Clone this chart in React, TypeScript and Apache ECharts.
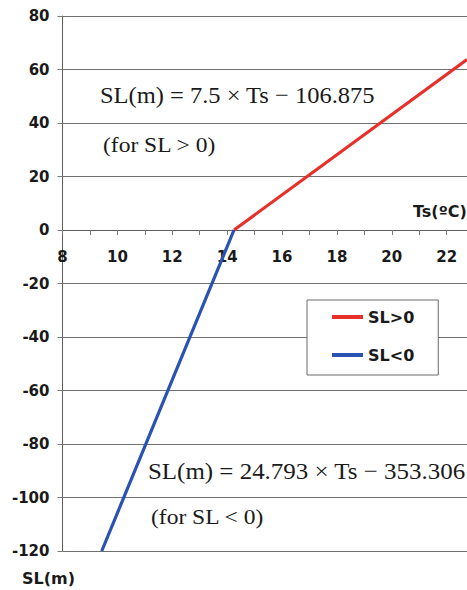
import React, { useEffect, useRef } from "react";
import * as echarts from "echarts";

const yTicks = [-120, -100, -80, -60, -40, -20, 0, 20, 40, 60, 80];
const xLabels = [8, 10, 12, 14, 16, 18, 20, 22];
const xMin = 8;
const xMax = 22.74;
const positivePoints: [number, number][] = [
  [14.25, 0],
  [22.74, 63.7],
];
const negativePoints: [number, number][] = [
  [9.43, -120],
  [14.25, 0],
];
const seriesNames = ["SL>0", "SL<0"];
const equationPos = "SL(m) = 7.5 × Ts − 106.875";
const conditionPos = "(for SL > 0)";
const equationNeg = "SL(m) = 24.793 × Ts − 353.306";
const conditionNeg = "(for SL < 0)";

export default function App() {
  const ref = useRef<HTMLDivElement>(null);
  useEffect(() => {
    if (!ref.current) return;
    const chart = echarts.init(ref.current, null, { renderer: "svg" });
    const sans = "DejaVu Sans";
    const serif = "Liberation Serif";
    const yMin = yTicks[0];
    const yMax = yTicks[yTicks.length - 1];
    const top = 16;
    const bottom = 39;
    const plotH = 590 - top - bottom;
    const zeroPx = top + (yMax / (yMax - yMin)) * plotH;
    const axisColor = "#5e5e5e";
    const tickColor = "#7a7a7a";
    chart.setOption({
      animation: false,
      backgroundColor: "#ffffff",
      grid: [
        { left: 62.5, right: 0, top, bottom },
        { left: 62.5, right: 0, top, bottom: 590 - zeroPx },
      ],
      xAxis: [
        {
          type: "value",
          gridIndex: 0,
          min: xMin,
          max: xMax,
          show: false,
        },
        {
          type: "value",
          gridIndex: 1,
          min: xMin,
          max: xMax,
          interval: 1,
          position: "bottom",
          axisLine: { show: true, onZero: false, lineStyle: { color: axisColor, width: 1 } },
          axisTick: { show: true, length: 5, lineStyle: { color: tickColor } },
          axisLabel: {
            margin: 19,
            fontFamily: sans,
            fontWeight: "bold",
            fontSize: 15,
            color: "#1a1a1a",
            showMaxLabel: false,
            formatter: (v: number) => (xLabels.includes(v) ? String(v) : ""),
          },
          splitLine: { show: false },
        },
      ],
      yAxis: [
        {
          type: "value",
          gridIndex: 0,
          min: yMin,
          max: yMax,
          interval: 20,
          axisLine: { show: true, onZero: false, lineStyle: { color: axisColor, width: 1 } },
          axisTick: { show: true, length: 5, lineStyle: { color: tickColor } },
          axisLabel: {
            margin: 13,
            fontFamily: sans,
            fontWeight: "bold",
            fontSize: 15,
            color: "#1a1a1a",
          },
          splitLine: { show: true, lineStyle: { color: "#707070", width: 1 } },
        },
        {
          type: "value",
          gridIndex: 1,
          min: 0,
          max: yMax,
          show: false,
        },
      ],
      legend: {
        orient: "vertical",
        left: 307,
        top: 300,
        padding: [8, 24, 11, 25],
        itemGap: 20,
        itemWidth: 31,
        itemHeight: 4,
        itemTextGap: 5,
        icon: "rect",
        backgroundColor: "#ffffff",
        borderColor: "#6a6a6a",
        borderWidth: 1,
        textStyle: { fontFamily: sans, fontWeight: "bold", fontSize: 16, color: "#1a1a1a", lineHeight: 18 },
        data: seriesNames,
      },
      series: [
        {
          name: seriesNames[0],
          type: "line",
          xAxisIndex: 0,
          yAxisIndex: 0,
          data: positivePoints,
          showSymbol: false,
          lineStyle: { color: "#e8302a", width: 3.2 },
          itemStyle: { color: "#e8302a" },
        },
        {
          name: seriesNames[1],
          type: "line",
          xAxisIndex: 0,
          yAxisIndex: 0,
          data: negativePoints,
          showSymbol: false,
          lineStyle: { color: "#2a52b0", width: 3.2 },
          itemStyle: { color: "#2a52b0" },
        },
      ],
      graphic: [
        {
          type: "text",
          x: 100,
          y: 95,
          scaleX: 1.02,
          style: { text: equationPos, fontFamily: serif, fontSize: 24, fill: "#1a1a1a", verticalAlign: "middle" },
        },
        {
          type: "text",
          x: 103,
          y: 145,
          scaleX: 1.12,
          style: { text: conditionPos, fontFamily: serif, fontSize: 21, fill: "#1a1a1a", verticalAlign: "middle" },
        },
        {
          type: "text",
          x: 148,
          y: 471,
          scaleX: 1.04,
          style: { text: equationNeg, fontFamily: serif, fontSize: 24, fill: "#1a1a1a", verticalAlign: "middle" },
        },
        {
          type: "text",
          x: 151,
          y: 517,
          scaleX: 1.12,
          style: { text: conditionNeg, fontFamily: serif, fontSize: 21, fill: "#1a1a1a", verticalAlign: "middle" },
        },
        {
          type: "text",
          x: 413,
          y: 211,
          style: { text: "Ts(ºC)", fontFamily: sans, fontWeight: "bold", fontSize: 16, fill: "#1a1a1a", verticalAlign: "middle" },
        },
        {
          type: "text",
          x: 22,
          y: 578,
          style: { text: "SL(m)", fontFamily: sans, fontWeight: "bold", fontSize: 16, fill: "#1a1a1a", verticalAlign: "middle" },
        },
      ],
    });
    return () => chart.dispose();
  }, []);
  return (
    <div
      ref={ref}
      style={{ position: "fixed", left: 0, top: 0, width: 467, height: 590 }}
    />
  );
}
